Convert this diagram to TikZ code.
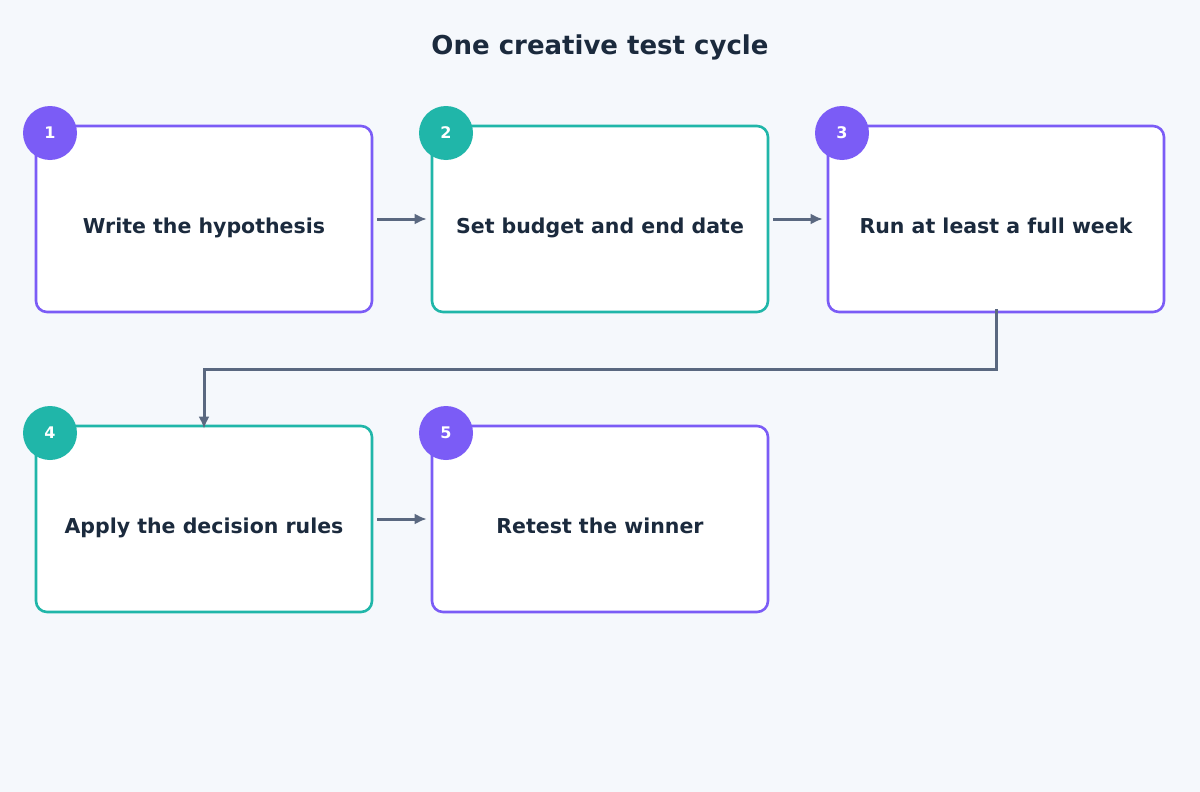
\documentclass[tikz,border=0pt]{standalone}
\usepackage{fontspec}
\setmainfont{DejaVu Sans}
\usetikzlibrary{arrows.meta}
\definecolor{bg}{HTML}{F5F8FC}
\definecolor{pur}{HTML}{7B5CF6}
\definecolor{tea}{HTML}{20B6A9}
\definecolor{txt}{HTML}{1B2A3D}
\definecolor{arr}{HTML}{5A6880}
\begin{document}
\begin{tikzpicture}[x=1pt,y=-1pt,
 box/.style={draw=#1,line width=2.6pt,fill=white,rounded corners=11pt,minimum width=336pt,minimum height=186pt,inner sep=0pt},
 lbl/.style={font=\bfseries\fontsize{20.5}{24}\selectfont,text=txt,anchor=base},
 num/.style={circle,fill=#1,minimum size=54pt,inner sep=0pt,text=white,font=\bfseries\fontsize{16}{18}\selectfont},
 con/.style={draw=arr,line width=3pt,-{Latex[length=12pt,width=11pt]}}]
\useasboundingbox[fill=bg] (0,0) rectangle (1200,792);
\node[text=txt,font=\bfseries\fontsize{26}{30}\selectfont] (title) at (600,47) {One creative test cycle};
\node[box=pur] (b1) at (204,219) {};
\node[box=tea] (b2) at (600,219) {};
\node[box=pur] (b3) at (996,219) {};
\node[box=tea] (b4) at (204,519) {};
\node[box=pur] (b5) at (600,519) {};
\node[lbl] (t1) at (204,233) {Write the hypothesis};
\node[lbl] (t2) at (600,233) {Set budget and end date};
\node[lbl] (t3) at (996,233) {Run at least a full week};
\node[lbl] (t4) at (204,533) {Apply the decision rules};
\node[lbl] (t5) at (600,533) {Retest the winner};
\node[num=pur] (n1) at (50,133) {1};
\node[num=tea] (n2) at (446,133) {2};
\node[num=pur] (n3) at (842,133) {3};
\node[num=tea] (n4) at (50,433) {4};
\node[num=pur] (n5) at (446,433) {5};
\draw[con] ([xshift=4pt]b1.east) -- ([xshift=-4pt]b2.west);
\draw[con] ([xshift=4pt]b2.east) -- ([xshift=-4pt]b3.west);
\draw[con] ([xshift=4pt]b4.east) -- ([xshift=-4pt]b5.west);
\coordinate (c1) at (996,369);
\coordinate (c2) at (204,369);
\draw[con] ([yshift=4pt]b3.south) -- (c1) -- (c2) -- ([yshift=-4pt]b4.north);
\end{tikzpicture}
\end{document}
